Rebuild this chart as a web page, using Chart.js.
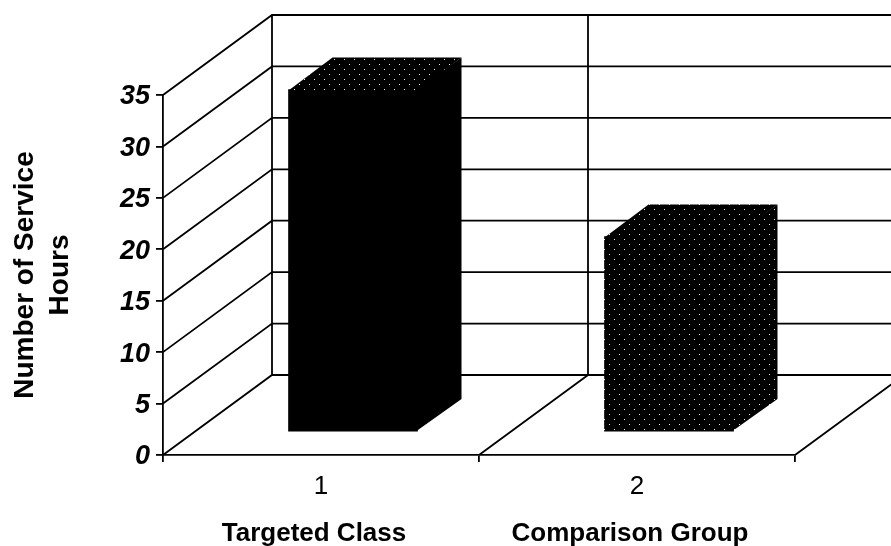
<!DOCTYPE html>
<html>
<head>
<meta charset="utf-8">
<style>html,body{margin:0;padding:0;background:#fff;overflow:hidden}canvas{display:block}</style>
<script src="https://cdn.jsdelivr.net/npm/chart.js@4"></script>
</head>
<body>
<canvas id="c" width="891" height="546"></canvas>
<script>
const categories = ['1', '2'];
const groupLabels = ['Targeted Class', 'Comparison Group'];
const serviceHours = [33.3, 19];
const axisTitle = ['Number of Service', 'Hours'];
const FONT = '"Liberation Sans", Arial, sans-serif';

function stipple() {
  const t = document.createElement('canvas');
  t.width = 10; t.height = 10;
  const g = t.getContext('2d');
  g.fillStyle = '#000'; g.fillRect(0, 0, 10, 10);
  g.fillStyle = '#f0f0f0';
  g.fillRect(2, 2, 1, 1);
  g.fillRect(7, 7, 1, 1);
  return g.createPattern(t, 'repeat');
}
const dots = stipple();
const frontFills = ['#000', dots];
const topFills = [dots, dots];
const sideFills = ['#000', dots];

const WALL = {dx: 109, dy: -80};
const BAR_SHIFT = {dx: 32, dy: -23};
const BAR_DEPTH = {dx: 44, dy: -32};

const box3d = {
  id: 'box3d',
  beforeDatasetsDraw(chart) {
    const {ctx, scales: {x, y}} = chart;
    const L = x.left, R = x.right;
    ctx.save();
    ctx.strokeStyle = '#000';
    ctx.lineWidth = 1.8;
    ctx.beginPath();
    y.ticks.forEach(t => {
      const p = y.getPixelForValue(t.value);
      ctx.moveTo(L, p);
      ctx.lineTo(L + WALL.dx, p + WALL.dy);
      ctx.lineTo(R + WALL.dx, p + WALL.dy);
    });
    const b = y.getPixelForValue(0), top = y.getPixelForValue(y.max);
    const edges = [0, 1, 2].map(i => L + (R - L) * i / categories.length);
    edges.forEach(e => {
      ctx.moveTo(e, b);
      ctx.lineTo(e + WALL.dx, b + WALL.dy);
      ctx.lineTo(e + WALL.dx, top + WALL.dy);
    });
    ctx.stroke();
    ctx.restore();
  },
  beforeDatasetDraw(chart) {
    chart.ctx.save();
    chart.ctx.translate(BAR_SHIFT.dx, BAR_SHIFT.dy);
  },
  afterDatasetDraw(chart, args) {
    const ctx = chart.ctx;
    args.meta.data.forEach((bar, i) => {
      const l = bar.x - bar.width / 2, r = bar.x + bar.width / 2;
      const t = bar.y, b = bar.base;
      ctx.fillStyle = topFills[i];
      ctx.beginPath();
      ctx.moveTo(l, t + 1);
      ctx.lineTo(l + BAR_DEPTH.dx, t + BAR_DEPTH.dy);
      ctx.lineTo(r + BAR_DEPTH.dx, t + BAR_DEPTH.dy);
      ctx.lineTo(r, t + 1);
      ctx.closePath();
      ctx.fill();
      ctx.fillStyle = sideFills[i];
      ctx.beginPath();
      ctx.moveTo(r - 1, t);
      ctx.lineTo(r + BAR_DEPTH.dx, t + BAR_DEPTH.dy);
      ctx.lineTo(r + BAR_DEPTH.dx, b + BAR_DEPTH.dy);
      ctx.lineTo(r - 1, b);
      ctx.closePath();
      ctx.fill();
    });
    ctx.restore();
  }
};

new Chart(document.getElementById('c'), {
  type: 'bar',
  data: {
    labels: categories,
    datasets: [{
      data: serviceHours,
      backgroundColor: frontFills,
      borderWidth: 0,
      barThickness: 129,
      clip: false
    }]
  },
  plugins: [box3d],
  options: {
    responsive: false,
    animation: false,
    devicePixelRatio: 1,
    layout: {padding: {top: 95, right: 96, left: 0, bottom: 0}},
    plugins: {legend: {display: false}, title: {display: false}, tooltip: {enabled: false}},
    scales: {
      x: {
        type: 'category',
        offset: true,
        weight: 0,
        afterFit(s) { s.height = 45; },
        grid: {drawOnChartArea: false, offset: true, tickLength: 7, color: '#000', lineWidth: 1.8},
        border: {color: '#000', width: 1.8},
        ticks: {color: '#000', font: {family: FONT, size: 26}, padding: 9, maxRotation: 0, autoSkip: false}
      },
      x2: {
        type: 'category',
        position: 'bottom',
        labels: groupLabels,
        offset: true,
        weight: 1,
        afterFit(s) { s.height = 46; },
        grid: {display: false},
        border: {display: false},
        ticks: {color: '#000', font: {family: FONT, size: 26, weight: 'bold'}, padding: 10, labelOffset: -7, maxRotation: 0, autoSkip: false}
      },
      y: {
        min: 0,
        max: 35,
        afterFit(s) { s.width = 163; },
        grid: {drawOnChartArea: false, tickLength: 7, color: '#000', lineWidth: 1.8},
        border: {color: '#000', width: 1.8},
        title: {
          display: true,
          text: axisTitle,
          color: '#000',
          font: {family: FONT, size: 28, weight: 'bold', lineHeight: 1.25},
          padding: {top: 8, bottom: 0}
        },
        ticks: {stepSize: 5, color: '#000', padding: 6, labelOffset: 2, font: {family: FONT, size: 27, weight: 'bold', style: 'italic'}}
      }
    }
  }
});
</script>
</body>
</html>
